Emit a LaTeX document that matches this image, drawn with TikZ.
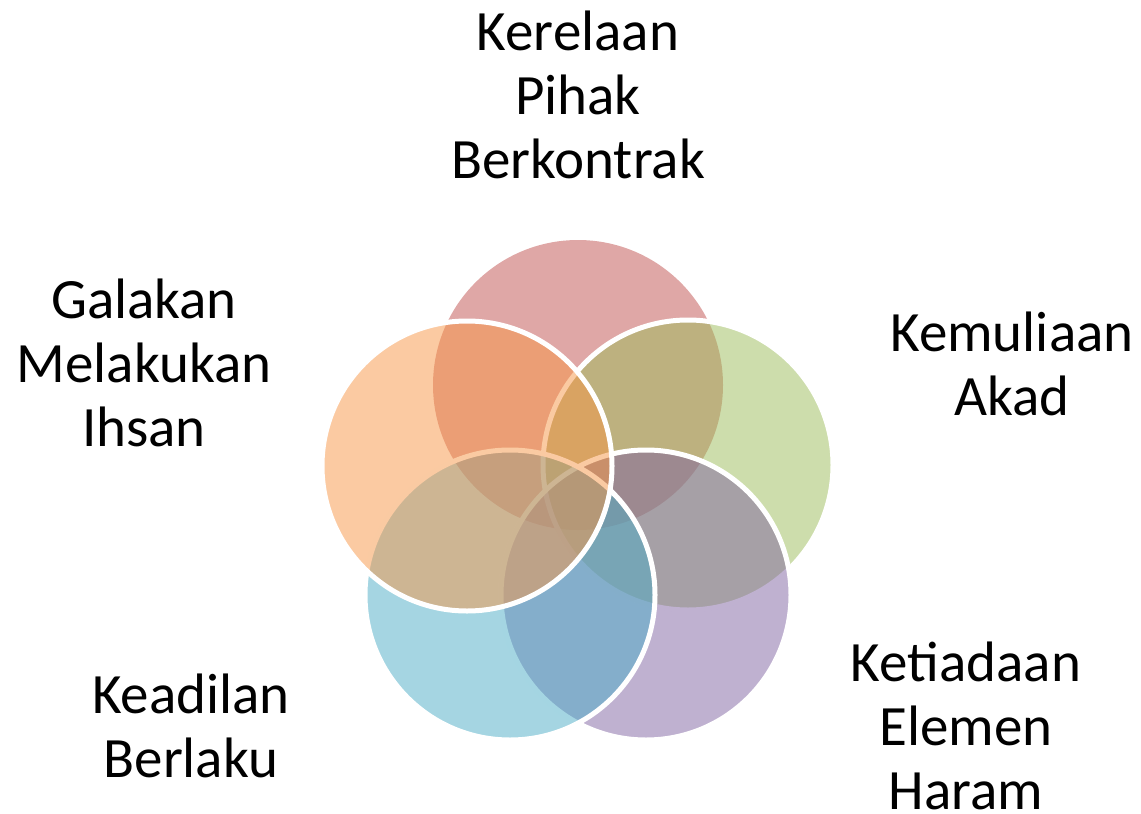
\documentclass[tikz,border=0pt]{standalone}
\usepackage{fontspec}
\setmainfont{Carlito}
\definecolor{accRed}{RGB}{192,80,77}
\definecolor{accGreen}{RGB}{155,187,89}
\definecolor{accPurple}{RGB}{128,100,162}
\definecolor{accBlue}{RGB}{75,172,198}
\definecolor{accOrange}{RGB}{247,150,70}
\tikzset{
	petal/.style={circle, minimum size=290pt, inner sep=0pt, fill opacity=0.5},
	rim/.style={draw=white, line width=5pt},
	lbl/.style={align=center, inner sep=0pt, font=\fontsize{57}{64}\selectfont}
}
\begin{document}
\begin{tikzpicture}[x=1pt, y=-1pt]

		\useasboundingbox (0, 0) rectangle (1141, 814);

		\node[petal, fill=accRed] (P1) at (578, 385) {};
		\node[petal, rim, fill=accGreen] (P2) at (688, 465) {};
		\node[petal, rim, fill=accPurple] (P3) at (646, 595) {};
		\node[petal, rim, fill=accBlue] (P4) at (510, 595) {};
		\node[petal, rim, fill=accOrange] (P5) at (467, 466) {};

		\node[lbl] (L1) at (578, 95) {Kerelaan\\Pihak\\Berkontrak};
		\node[lbl] (L2) at (1012, 364) {Kemuliaan\\Akad};
		\node[lbl] (L3) at (966, 726) {Ketiadaan\\Elemen\\Haram};
		\node[lbl] (L4) at (191, 726) {Keadilan\\Berlaku};
		\node[lbl] (L5) at (144, 363) {Galakan\\Melakukan\\Ihsan};

	\end{tikzpicture}
\end{document}
